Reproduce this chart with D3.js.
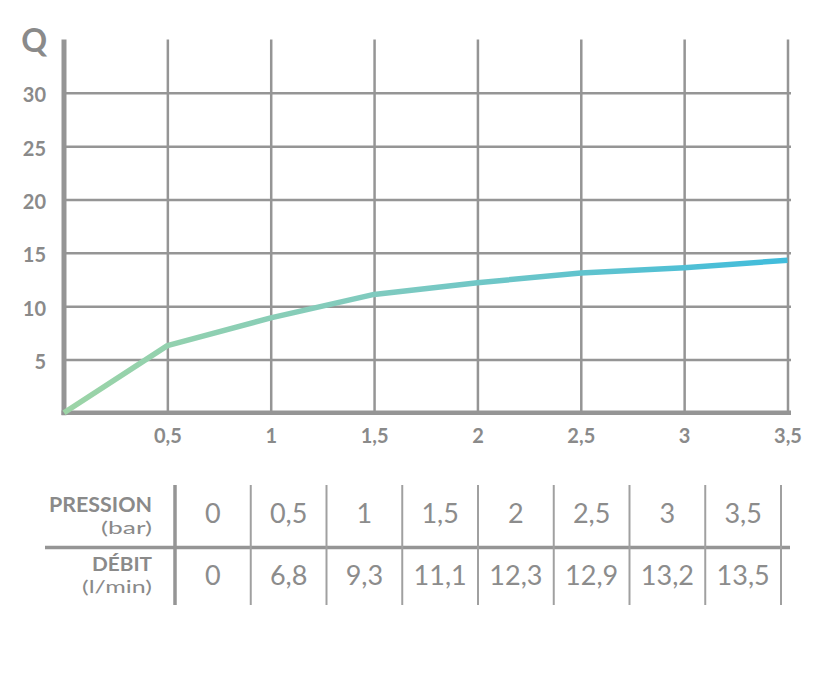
<!DOCTYPE html>
<html>
<head>
<meta charset="utf-8">
<script src="https://cdn.jsdelivr.net/npm/d3@7"></script>
<style>
  html, body { margin: 0; padding: 0; background: #fff; }
  svg { display: block; }
  text { font-family: Lato, "Open Sans", sans-serif; }
</style>
</head>
<body>
<svg id="chart" width="815" height="680"></svg>
<script>
// ---- data ----
const pressures = [0, 0.5, 1, 1.5, 2, 2.5, 3, 3.5];           // bar
const flowCurve = [0, 6.3, 8.9, 11.1, 12.2, 13.1, 13.6, 14.3];  // l/min, as drawn on the chart
const xTicks = [0.5, 1, 1.5, 2, 2.5, 3, 3.5];
const yTicks = [5, 10, 15, 20, 25, 30];
const yTop = 35;
const tablePressure = ["0", "0,5", "1", "1,5", "2", "2,5", "3", "3,5"];
const tableFlow = ["0", "6,8", "9,3", "11,1", "12,3", "12,9", "13,2", "13,5"];
const rowLabels = [["PRESSION", "(bar)"], ["DÉBIT", "(l/min)"]];

const gray = "#959595";
const textGray = "#8a8a8a";

const svg = d3.select("#chart");
const x = d3.scaleLinear().domain([0, 3.5]).range([64, 787.5]);
const y = d3.scaleLinear().domain([0, 30]).range([412.8, 92.8]);

// gradient
const defs = svg.append("defs");
const grad = defs.append("linearGradient").attr("id", "lineGrad")
  .attr("gradientUnits", "userSpaceOnUse")
  .attr("x1", x(0)).attr("x2", x(3.5)).attr("y1", 0).attr("y2", 0);
grad.append("stop").attr("offset", 0).attr("stop-color", "#9cd4a6");
grad.append("stop").attr("offset", 0.45).attr("stop-color", "#7ecac0");
grad.append("stop").attr("offset", 1).attr("stop-color", "#40bcdc");

// horizontal grid + y labels
const yAxis = d3.axisLeft(y).tickValues(yTicks)
  .tickSize(-(x(3.5) + 3.5 - x(0))).tickPadding(18).tickFormat(d => d);
const gy = svg.append("g").attr("transform", `translate(${x(0)},0)`).call(yAxis);
gy.select(".domain").remove();
gy.selectAll(".tick line").attr("stroke", gray).attr("stroke-width", 2.5);
gy.selectAll(".tick text").attr("fill", textGray).attr("font-size", 20)
  .attr("font-weight", "bold").attr("dy", "0.45em");

// vertical grid + x labels
const xAxis = d3.axisBottom(x).tickValues(xTicks)
  .tickSize(-(y(0) - y(yTop))).tickPadding(16)
  .tickFormat(d => String(d).replace(".", ","));
const gx = svg.append("g").attr("transform", `translate(0,${y(0)})`).call(xAxis);
gx.select(".domain").remove();
gx.selectAll(".tick line").attr("stroke", gray).attr("stroke-width", 2.5);
gx.selectAll(".tick text").attr("fill", textGray).attr("font-size", 20)
  .attr("font-weight", "bold");

// axis lines
svg.append("line").attr("x1", x(0)).attr("x2", x(0))
  .attr("y1", y(yTop)).attr("y2", y(0) + 2.5)
  .attr("stroke", gray).attr("stroke-width", 5);
svg.append("line").attr("x1", x(0) - 2.5).attr("x2", x(3.5) + 3.5)
  .attr("y1", y(0)).attr("y2", y(0))
  .attr("stroke", gray).attr("stroke-width", 4.5);

// Q label
svg.append("text").attr("x", 47).attr("y", 52).attr("text-anchor", "end")
  .attr("font-size", 32).attr("font-weight", "bold").attr("fill", textGray).text("Q");

// line
const line = d3.line().x((d, i) => x(pressures[i])).y(d => y(d));
svg.append("path").datum(flowCurve).attr("d", line)
  .attr("fill", "none").attr("stroke", "url(#lineGrad)")
  .attr("stroke-width", 5.5).attr("stroke-linejoin", "round");

// ---- table ----
const col = d3.scaleLinear().domain([0, 8]).range([175, 781]);
const rowBase = [523, 585];
const tTop = 485, tBottom = 605, tMid = 547.5;

svg.append("line").attr("x1", 45).attr("x2", 790).attr("y1", tMid).attr("y2", tMid)
  .attr("stroke", gray).attr("stroke-width", 3.5);
svg.append("line").attr("x1", col(0)).attr("x2", col(0)).attr("y1", tTop).attr("y2", tBottom)
  .attr("stroke", gray).attr("stroke-width", 3.5);
svg.selectAll(".sep").data(d3.range(1, 9)).join("line").attr("class", "sep")
  .attr("x1", d => col(d)).attr("x2", d => col(d)).attr("y1", tTop).attr("y2", tBottom)
  .attr("stroke", "#a0a0a0").attr("stroke-width", 2);

[tablePressure, tableFlow].forEach((row, r) => {
  svg.selectAll(".cell" + r).data(row).join("text").attr("class", "cell" + r)
    .attr("x", (d, i) => col(i + 0.5)).attr("y", rowBase[r])
    .attr("text-anchor", "middle").attr("font-size", 27).attr("font-weight", "normal")
    .attr("fill", "#8c8c8c").text(d => d);
});

// row headers
const hdr = [
  {t: rowLabels[0][0], y: 511.5, size: 20, w: "bold", len: 103},
  {t: rowLabels[0][1], y: 534, size: 18, w: "normal", len: 51},
  {t: rowLabels[1][0], y: 570.5, size: 19, w: "bold", len: 60},
  {t: rowLabels[1][1], y: 592.5, size: 17, w: "normal", len: 70}
];
svg.selectAll(".hdr").data(hdr).join("text").attr("class", "hdr")
  .attr("x", 152).attr("y", d => d.y).attr("text-anchor", "end")
  .attr("font-size", d => d.size).attr("font-weight", d => d.w)
  .attr("fill", textGray)
  .attr("textLength", d => d.len).attr("lengthAdjust", "spacingAndGlyphs")
  .text(d => d.t);
</script>
</body>
</html>
